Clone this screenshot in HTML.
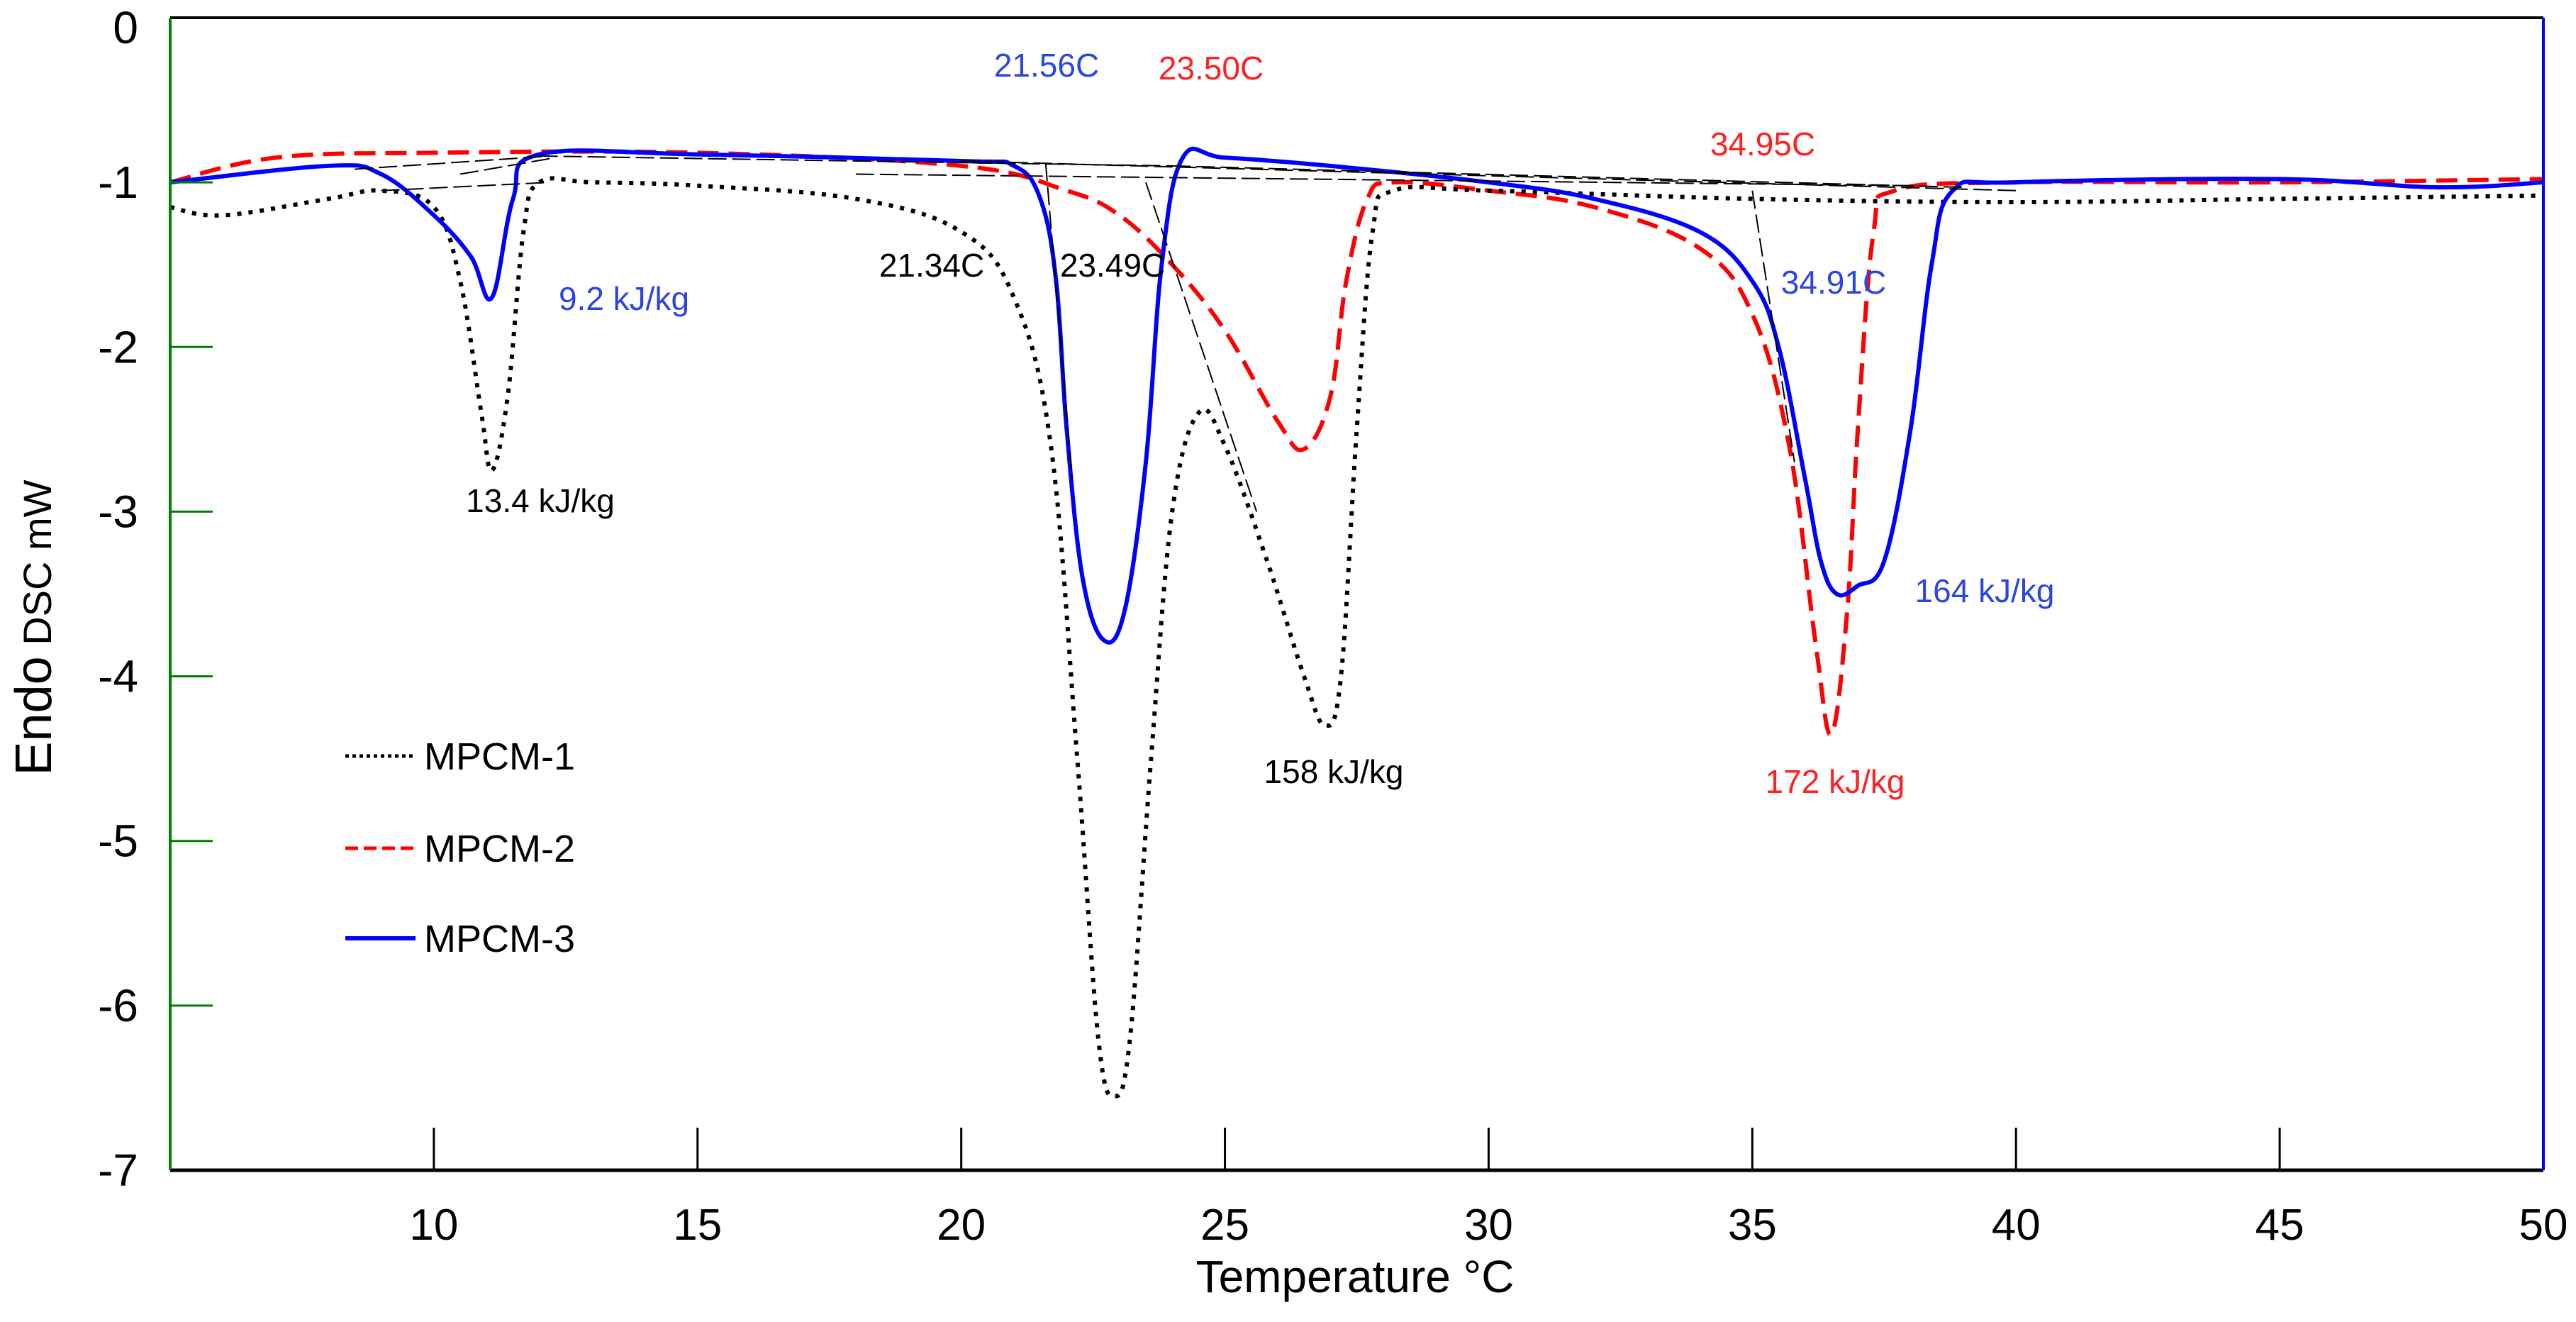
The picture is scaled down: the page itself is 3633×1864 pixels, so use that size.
<!DOCTYPE html>
<html><head><meta charset="utf-8"><style>
html,body{margin:0;padding:0;background:#fff}
svg{display:block}
text{font-family:"Liberation Sans",sans-serif}
</style></head><body>
<svg id="chart" width="3633" height="1864" viewBox="0 0 3633 1864" xmlns="http://www.w3.org/2000/svg">
<g id="grid"></g>
<g id="series"></g>
<g id="tangents"></g>
<g id="axes"></g>
<g id="labels"></g>
</svg>
<script>
const xTicks = [10, 15, 20, 25, 30, 35, 40, 45, 50];
const yTicks = [0, -1, -2, -3, -4, -5, -6, -7];
const m1x = [5,6,8,9,10,10.5,10.9,11.1,11.4,11.7,12,13,15,18,20,21,21.7,22.2,22.6,22.9,23.2,23.6,24.0,24.5,25,25.8,26.5,26.9,27.2,27.5,27.8,28.2,30,35,40,45,50];
const m1y = [-1.15,-1.2,-1.1,-1.05,-1.15,-1.6,-2.4,-2.75,-2.3,-1.3,-1.0,-1.0,-1.02,-1.1,-1.3,-1.7,-2.6,-4.5,-6.2,-6.55,-6.2,-4.5,-3.0,-2.4,-2.6,-3.3,-4.0,-4.3,-4.0,-2.5,-1.3,-1.05,-1.05,-1.1,-1.12,-1.1,-1.08];
const m2x = [5,7,10,15,20,22,23,24,25,26,26.5,27,27.3,27.7,28.2,30,32,34,35,35.7,36.2,36.5,36.8,37.0,37.3,37.7,40,45,50];
const m2y = [-1.0,-0.85,-0.82,-0.82,-0.9,-1.05,-1.2,-1.5,-1.9,-2.45,-2.62,-2.3,-1.6,-1.1,-1.0,-1.05,-1.15,-1.4,-1.8,-2.6,-3.8,-4.35,-3.6,-2.5,-1.3,-1.05,-1.0,-1.0,-0.98];
const m3x = [5,8,9,10,10.7,11.1,11.5,12,15,20,21,21.5,21.8,22,22.3,22.7,23.1,23.5,23.8,24.2,25,27,30,32,34,35,35.5,36,36.3,36.6,37,37.5,38,38.4,38.8,40,45,48,50];
const m3y = [-1.0,-0.9,-0.95,-1.2,-1.45,-1.7,-1.1,-0.83,-0.83,-0.87,-0.9,-1.1,-1.6,-2.5,-3.4,-3.78,-3.6,-2.7,-1.5,-0.85,-0.85,-0.9,-1.0,-1.1,-1.3,-1.6,-2.0,-2.8,-3.3,-3.5,-3.45,-3.3,-2.5,-1.5,-1.05,-1.0,-0.98,-1.03,-1.0];
const tanX1 = [8.5,9,10.5,21.6,23.5,35,20,18,24,12];
const tanY1 = [-0.92,-1.05,-0.95,-0.88,-1.0,-1.05,-0.87,-0.95,-0.9,-0.84];
const tanX2 = [12.2,12.2,12.3,22.1,25.6,35.8,40,38,39,24];
const tanY2 = [-0.84,-1.0,-0.85,-2.8,-3.0,-2.7,-1.05,-1.02,-1.03,-0.9];

const L=240,R=3587,T=25,B=1650,X0=5,X1=50,Y0=0,Y1=-7;
const sx=v=>L+(v-X0)/(X1-X0)*(R-L);
const sy=v=>T+(v-Y0)/(Y1-Y0)*(B-T);
const NS="http://www.w3.org/2000/svg";
function mk(tag,parent,attrs){const e=document.createElementNS(NS,tag);for(const k in attrs)e.setAttribute(k,attrs[k]);document.getElementById(parent).appendChild(e);return e;}
function path(xs,ys){
  const P=xs.map((x,i)=>[sx(x),sy(ys[i])]);
  let d='M'+P[0][0].toFixed(1)+','+P[0][1].toFixed(1);
  for(let i=0;i<P.length-1;i++){
    const p0=P[Math.max(0,i-1)],p1=P[i],p2=P[i+1],p3=P[Math.min(P.length-1,i+2)];
    const k=0.18;
    const c1=[p1[0]+(p2[0]-p0[0])*k,p1[1]+(p2[1]-p0[1])*k];
    const c2=[p2[0]-(p3[0]-p1[0])*k,p2[1]-(p3[1]-p1[1])*k];
    d+=' C'+c1[0].toFixed(1)+','+c1[1].toFixed(1)+' '+c2[0].toFixed(1)+','+c2[1].toFixed(1)+' '+p2[0].toFixed(1)+','+p2[1].toFixed(1);
  }
  return d;
}

let p;
p=mk('path','series',{d:path(m2x,m2y),fill:'none',stroke:'#ff0000','stroke-width':6,'stroke-dasharray':'30,14'});


p=mk('path','series',{d:path(m1x,m1y),fill:'none',stroke:'#000','stroke-width':6,'stroke-dasharray':'6,10'});


p=mk('path','series',{d:path(m3x,m3y),fill:'none',stroke:'#0000ff','stroke-width':6});



for(let i=0;i<tanX1.length;i++){
  const t=mk('line','tangents',{x1:sx(tanX1[i]),y1:sy(tanY1[i]),x2:sx(tanX2[i]),y2:sy(tanY2[i]),stroke:'#000','stroke-width':2,'stroke-dasharray':'26,8'});
  
  
}

let a;
a=mk('line','axes',{x1:L,y1:T,x2:R,y2:T,stroke:'#000','stroke-width':4});


a=mk('line','axes',{x1:L,y1:B,x2:R,y2:B,stroke:'#000','stroke-width':5});


a=mk('line','axes',{x1:L,y1:T,x2:L,y2:B,stroke:'#008000','stroke-width':4});


a=mk('line','axes',{x1:R,y1:T,x2:R,y2:B,stroke:'#0000ff','stroke-width':4});



xTicks.forEach(v=>{
  if(v<X1){const t=mk('line','axes',{x1:sx(v),y1:B,x2:sx(v),y2:B-60,stroke:'#000','stroke-width':3});
  
  }
  const tx=mk('text','labels',{x:sx(v),y:B+98,'font-size':62,'text-anchor':'middle',fill:'#000'});
  tx.textContent=v;
  
  
});
yTicks.forEach(v=>{
  if(v!==Y0&&v!==Y1){const t=mk('line','axes',{x1:L,y1:sy(v),x2:L+60,y2:sy(v),stroke:'#008000','stroke-width':3});
  
  }
  const tx=mk('text','labels',{x:195,y:sy(v)+22+(v===0?14:0),'font-size':64,'text-anchor':'end',fill:'#000'});
  tx.textContent=v===0?'0':'-'+Math.abs(v);
  
  
});
</script>
<svg style="position:absolute;left:0;top:0" width="3633" height="1864">
<text x="1911" y="1822" font-size="64" text-anchor="middle" font-family="Liberation Sans">Temperature °C</text>
<text transform="translate(72,885) rotate(-90)" text-anchor="middle" font-family="Liberation Sans"><tspan font-size="72">Endo</tspan><tspan font-size="56"> DSC mW</tspan></text>
<g font-family="Liberation Sans" font-size="46">
<text x="1476" y="108" fill="#2b45e0" text-anchor="middle">21.56C</text>
<text x="1708" y="112" fill="#ff2020" text-anchor="middle">23.50C</text>
<text x="2486" y="219" fill="#ff2020" text-anchor="middle">34.95C</text>
<text x="2586" y="414" fill="#2b45e0" text-anchor="middle">34.91C</text>
<text x="1314" y="390" fill="#000" text-anchor="middle">21.34C</text>
<text x="1569" y="390" fill="#000" text-anchor="middle">23.49C</text>
<text x="880" y="437" fill="#2b45e0" text-anchor="middle">9.2 kJ/kg</text>
<text x="762" y="722" fill="#000" text-anchor="middle">13.4 kJ/kg</text>
<text x="1881" y="1104" fill="#000" text-anchor="middle">158 kJ/kg</text>
<text x="2588" y="1118" fill="#ff2020" text-anchor="middle">172 kJ/kg</text>
<text x="2799" y="849" fill="#2b45e0" text-anchor="middle">164 kJ/kg</text>
</g>
<g font-family="Liberation Sans" font-size="54">
<line x1="487" y1="1066" x2="586" y2="1066" stroke="#000" stroke-width="5" stroke-dasharray="5,5"/>
<text x="598" y="1085">MPCM-1</text>
<line x1="487" y1="1196" x2="586" y2="1196" stroke="#ff0000" stroke-width="5" stroke-dasharray="18,8"/>
<text x="598" y="1215">MPCM-2</text>
<line x1="487" y1="1323" x2="586" y2="1323" stroke="#0000ff" stroke-width="6"/>
<text x="598" y="1342">MPCM-3</text>
</g>
</svg>
</body></html>
